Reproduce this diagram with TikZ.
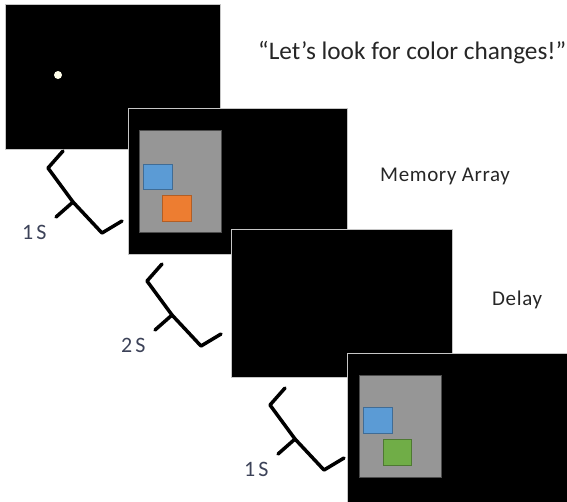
\documentclass[tikz,border=0pt]{standalone}
\usepackage{fontspec}
\setmainfont{Carlito}
\newfontfamily\spacedfont[LetterSpace=3]{Carlito}

\definecolor{screengray}{RGB}{150,150,150}
\definecolor{itemblue}{RGB}{91,155,213}
\definecolor{itemorange}{RGB}{237,125,49}
\definecolor{itemgreen}{RGB}{112,173,71}
\definecolor{timetext}{RGB}{60,66,88}

\tikzset{
    screen/.style = {fill = black, draw = gray!45, line width = 0.6pt},
    display/.style = {fill = screengray, draw = gray!60!black, line width = 0.6pt},
    blueitem/.style = {fill = itemblue, draw = itemblue!70!black, line width = 1pt},
    orangeitem/.style = {fill = itemorange, draw = itemorange!75!black, line width = 1pt},
    greenitem/.style = {fill = itemgreen, draw = itemgreen!70!black, line width = 1pt},
    timebrace/.style = {line width = 3.5pt, line join = round, line cap = round},
    phase/.style = {font = \spacedfont\fontsize{21}{24}\selectfont, text = black!85, anchor = base west, inner sep = 0pt},
    duration/.style = {font = \fontsize{22}{24}\selectfont, text = timetext, anchor = base west, inner sep = 0pt}
}

\begin{document}
\begin{tikzpicture}[x = 1pt, y = -1pt]
    \useasboundingbox (0,0) rectangle (567,501);
    \clip (0,0) rectangle (567,501);

    % the four screens, each one down and to the right of the last
    \draw[screen] (5,4) rectangle (220,149);
    \draw[screen] (128,108) rectangle (347,254);
    \draw[screen] (231,229) rectangle (452,377);
    \draw[screen] (347,353) rectangle (575,510);

    % fixation dot
    \fill[white!92!yellow] (58,75) circle (4);

    % memory array
    \draw[display] (139,130) rectangle (221,232);
    \draw[blueitem] (143,164) rectangle (172,189);
    \draw[orangeitem] (162,195) rectangle (191,221);

    % test array
    \draw[display] (359,375) rectangle (441,477);
    \draw[blueitem] (363,407) rectangle (392,433);
    \draw[greenitem] (383,439) rectangle (411,465);

    % braces between screens with their durations
    \foreach \bx/\by/\t [count = \i] in {63/151/1, 162/264/2, 285/388/1} {
        \draw[timebrace] (\bx,\by) -- ++(-15,17) -- ++(25,34) -- ++(29,31) -- ++(20,-12);
        \draw[timebrace] (\bx+10,\by+51) -- ++(-17,15);
        \node[duration] (time\i) at (\bx-41,\by+88) {\t\hspace{3pt}S};
    }

    \node[font = \fontsize{25.3}{28}\selectfont, text = black!85, anchor = base west, inner sep = 0pt]
        (prompt) at (258,59) {“Let’s look for color changes!”};
    \node[phase] (memory) at (380,181) {Memory Array};
    \node[phase] (delay) at (492,305) {Delay};
\end{tikzpicture}
\end{document}
